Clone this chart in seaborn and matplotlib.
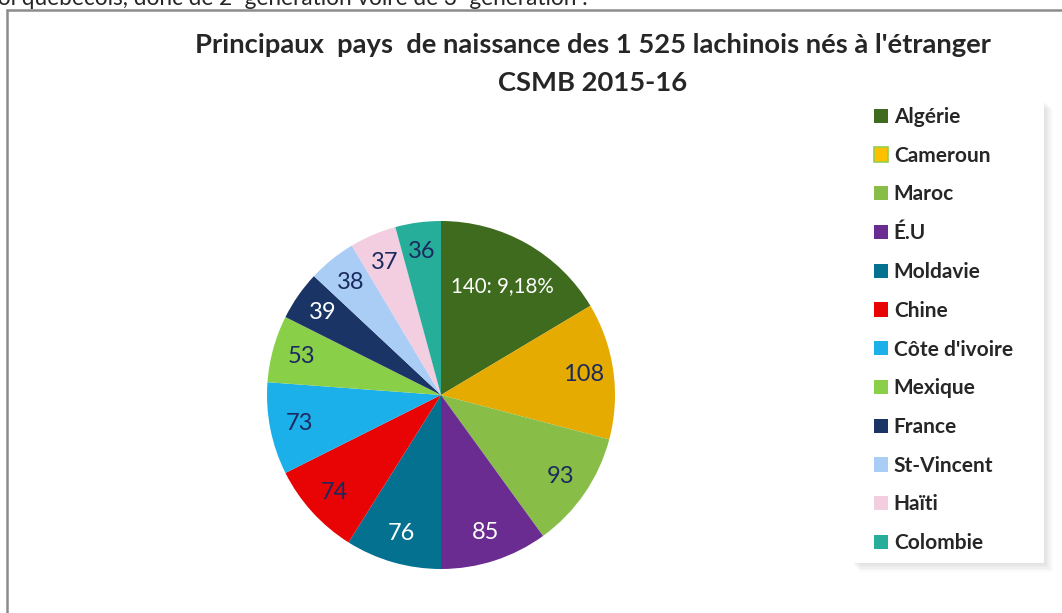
import matplotlib
matplotlib.use("Agg")
import matplotlib.pyplot as plt
import seaborn as sns
from matplotlib.lines import Line2D
from matplotlib.patches import Rectangle

# Donnees
pays = ["Algérie", "Cameroun", "Maroc", "É.U", "Moldavie", "Chine",
        "Côte d'ivoire", "Mexique", "France", "St-Vincent", "Haïti", "Colombie"]
effectifs = [140, 108, 93, 85, 76, 74, 73, 53, 39, 38, 37, 36]
total_nes_etranger = 1525
couleurs = ["#3F6B1E", "#E6AB00", "#88BE48", "#6A2C91", "#03718F", "#E80404",
            "#1CB0EA", "#8ACF48", "#1B3466", "#A9CDF4", "#F3CDE0", "#27AE9A"]
couleurs_etiq = ["white", "#1B2A5E", "#1B2A5E", "white", "white", "#1B2A5E",
                 "#1B2A5E", "#1B2A5E", "white", "#1B2A5E", "#1B2A5E", "#1B2A5E"]

sns.set_style("white")
W, H = 1062, 613

fig = plt.figure(figsize=(W / 100, H / 100), dpi=100)

# Cadre et ligne de texte coupee en haut
fig.add_artist(Line2D([7 / W, 1], [1 - 10 / H, 1 - 10 / H], color="#8C8C8C", lw=1.8))
fig.add_artist(Line2D([7 / W, 7 / W], [0, 1 - 10 / H], color="#8C8C8C", lw=1.8))
fig.text(588 / W, 1 - 5 / H, "soi québécois, donc de 2ᵉ génération voire de 3ᵉ génération :",
         ha="right", va="baseline", fontsize=16.3, family=["Lato", "DejaVu Sans"])

# Titre
fig.text(593 / W, 1 - 45 / H,
         "Principaux  pays  de naissance des 1 525 lachinois nés à l'étranger",
         ha="center", va="center", fontsize=19.7, fontweight="bold", family="Lato")
fig.text(593 / W, 1 - 83 / H, "CSMB 2015-16",
         ha="center", va="center", fontsize=19.7, fontweight="bold", family="Lato")

# Camembert
cx, cy, r = 441, 395, 174
ax = fig.add_axes([(cx - 1.25 * r) / W, (H - cy - 1.25 * r) / H, 2.5 * r / W, 2.5 * r / H])
etiquettes = [str(v) for v in effectifs]
etiquettes[0] = f"{effectifs[0]}: {effectifs[0] / total_nes_etranger * 100:.2f}%".replace(".", ",")
wedges, textes = ax.pie(effectifs, colors=couleurs, startangle=90, counterclock=False,
                        labels=etiquettes, labeldistance=0.83,
                        wedgeprops=dict(linewidth=0),
                        textprops=dict(fontsize=17, family="Lato"))
for t, c in zip(textes, couleurs_etiq):
    t.set_color(c)
    t.set_ha("center")
    t.set_va("center")
# etiquette Algerie plus petite et plus proche du centre
x0, y0 = textes[0].get_position()
textes[0].set_position((x0 * 0.72 / 0.83, y0 * 0.72 / 0.83))
textes[0].set_fontsize(14.8)
ax.set_xlim(-1.25, 1.25)
ax.set_ylim(-1.25, 1.25)
ax.set_aspect("equal")

# Cadre de legende avec ombre douce
lx0, ly0, lx1, ly1 = 851, 100, 1044, 563
for k in range(6):
    d = 1 + 1.6 * k
    fig.add_artist(Rectangle(((lx0 + d) / W, 1 - (ly1 + d) / H),
                             (lx1 - lx0) / W, (ly1 - ly0) / H,
                             transform=fig.transFigure, facecolor="black", alpha=0.018,
                             edgecolor="none", zorder=0))
fig.add_artist(Rectangle((lx0 / W, 1 - ly1 / H), (lx1 - lx0) / W, (ly1 - ly0) / H,
                         transform=fig.transFigure, facecolor="white", edgecolor="none", zorder=1))

poignees = [Rectangle((0, 0), 1, 1, facecolor=c, edgecolor="none") for c in couleurs]
poignees[1].set_facecolor("#FFC000")
poignees[1].set_edgecolor("#92D050")
poignees[1].set_linewidth(1.2)
leg = fig.legend(poignees, pays, loc="upper left",
                 bbox_to_anchor=(874 / W, 1 - 107 / H), bbox_transform=fig.transFigure,
                 prop=dict(family="Lato", weight="bold", size=15),
                 frameon=False, handlelength=0.67, handleheight=0.67, handletextpad=0.28,
                 labelspacing=0.9, borderpad=0, borderaxespad=0)
leg.set_zorder(5)

fig.savefig("out.png", dpi=100)
